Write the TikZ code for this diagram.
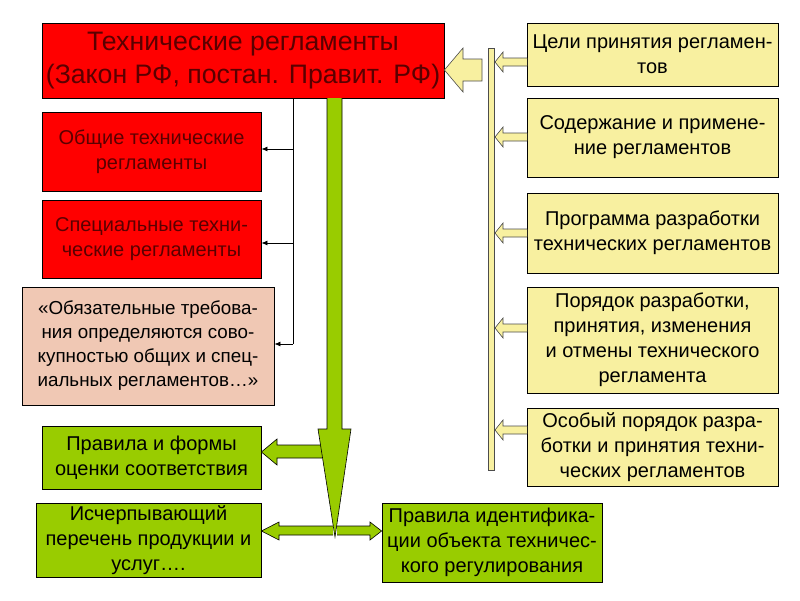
\documentclass[tikz,border=0pt]{standalone}
\usepackage{fontspec}
\setmainfont{Liberation Sans}
\usetikzlibrary{arrows.meta,calc}
\definecolor{cred}{HTML}{FF0000}
\definecolor{cdred}{HTML}{5A0000}
\definecolor{cyel}{HTML}{F8F0A0}
\definecolor{cgreen}{HTML}{99CC00}
\definecolor{csalmon}{HTML}{F0C8B4}
\tikzset{
  box/.style={draw=black, line width=0.8pt, align=center, inner sep=1pt,
    font=\fontsize{20}{25}\selectfont},
  redbox/.style={box, fill=cred, text=cdred},
  yelbox/.style={box, fill=cyel, text=black, minimum width=251pt},
  grnbox/.style={box, fill=cgreen, text=black},
  salbox/.style={box, fill=csalmon, text=black, font=\fontsize{18.8}{24}\selectfont},
  thinarr/.style={draw=black, line width=0.8pt, -{Latex[length=6pt,width=5pt]}},
  thinline/.style={draw=black, line width=0.8pt},
  garrow/.style={fill=cgreen, draw=black, line width=0.6pt, line join=miter},
  yarrow/.style={fill=cyel, draw=black!70, line width=0.6pt, line join=miter},
}
\newcommand\smallyarr[1]{%
  \draw[yarrow] (527,#1-4) -- (503,#1-4) -- (503,#1-10) -- (495,#1) -- (503,#1+10) -- (503,#1+4) -- (527,#1+4);}
\begin{document}
\begin{tikzpicture}[x=1pt,y=-1pt]
\useasboundingbox[fill=white] (0,0) rectangle (800,600);

% left column
\node[redbox, minimum width=402pt, minimum height=75pt, font=\fontsize{26.7}{33}\selectfont] (top) at (243,60.5)
  {Технические регламенты\\(Закон РФ, постан. Правит. РФ)};
\node[redbox, minimum width=219pt, minimum height=79pt] (gen) at (151.5,151.5)
  {Общие технические\\регламенты};
\node[redbox, minimum width=219pt, minimum height=78pt] (spec) at (151.5,239)
  {Специальные техни-\\ческие регламенты};
\node[salbox, minimum width=252pt, minimum height=118pt] (oblig) at (148,346)
  {«Обязательные требова-\\ния определяются сово-\\купностью общих и спец-\\иальных регламентов…»};
\node[grnbox, minimum width=219pt, minimum height=63pt] (rules) at (151.5,457.5)
  {Правила и формы\\оценки соответствия};
\node[grnbox, minimum width=225pt, minimum height=74pt] (exh) at (148.5,540)
  {Исчерпывающий\\перечень продукции и\\услуг….};
\node[grnbox, minimum width=220pt, minimum height=79pt] (ident) at (492,542.5)
  {Правила идентифика-\\ции объекта техничес-\\кого регулирования};

% right column
\node[yelbox, minimum height=63pt] (r1) at (652.5,54.5) {Цели принятия регламен-\\тов};
\node[yelbox, minimum height=79pt] (r2) at (652.5,137.5) {Содержание и примене-\\ние регламентов};
\node[yelbox, minimum height=80pt] (r3) at (652.5,233) {Программа разработки\\технических регламентов};
\node[yelbox, minimum height=106pt] (r4) at (652.5,340) {Порядок разработки,\\принятия, изменения\\и отмены технического\\регламента};
\node[yelbox, minimum height=78pt] (r5) at (652.5,447) {Особый порядок разра-\\ботки и принятия техни-\\ческих регламентов};

% thin connectors
\coordinate (sp1) at (293,98);
\coordinate (sp2) at (293,344);
\draw[thinline] (sp1) -- (sp2);
\draw[thinarr] (sp1 |- 0,149) -- (gen.east |- 0,149);
\draw[thinarr] (sp1 |- 0,243) -- (spec.east |- 0,243);
\draw[thinarr] (sp2) -- (sp2 -| oblig.east);

% green arrows
\draw[garrow] (322,445) -- (277,445) -- (277,439) -- (rules.east |- 0,452) -- (277,465) -- (277,458) -- (322,458);
\draw[garrow] (327,98) -- (327,429) -- (318,429) -- (335,537) -- (351,429) -- (342,429) -- (342,98);
\draw[garrow] (333,526) -- (279,526) -- (279,522) -- (exh.east |- 0,531) -- (279,540) -- (279,535) -- (333,535);
\draw[garrow] (337,526) -- (370,526) -- (370,522) -- (ident.west |- 0,531) -- (370,540) -- (370,535) -- (337,535);

% yellow bar and arrows
\draw[yarrow] (482,59) -- (463,59) -- (463,48) -- (top.east |- 0,70) -- (463,92) -- (463,81) -- (482,81) -- cycle;
\draw[yarrow] (488,48) rectangle (494,470);
\smallyarr{62}
\smallyarr{137}
\smallyarr{233}
\smallyarr{328}
\smallyarr{430}
\end{tikzpicture}
\end{document}
